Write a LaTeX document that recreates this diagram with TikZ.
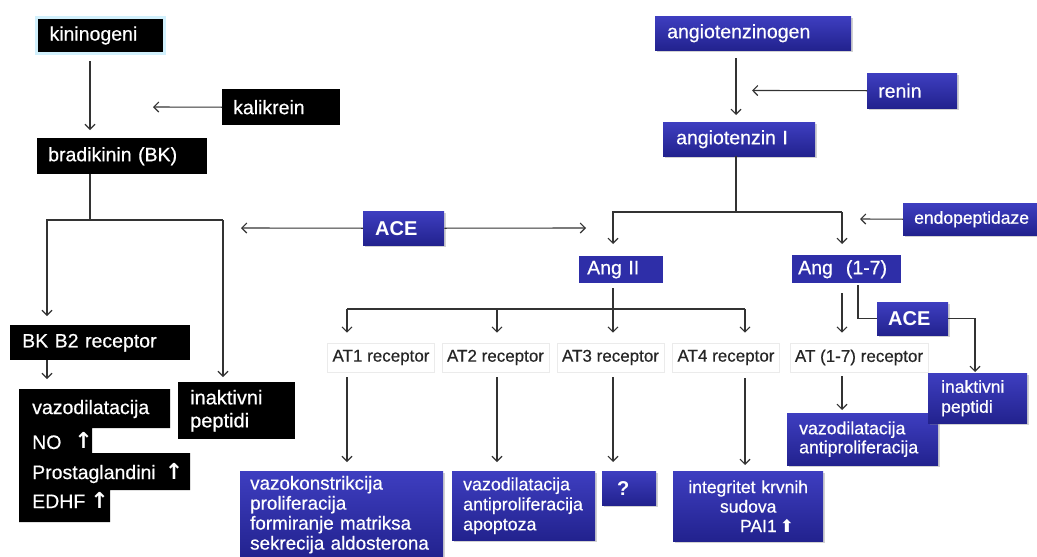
\documentclass[tikz,border=0pt]{standalone}
\usepackage{fontspec}
\setmainfont{Liberation Sans}[UprightFeatures={FakeBold=0.5}]
\newfontfamily\symf{DejaVu Sans}
\usetikzlibrary{arrows.meta,shadows}
\definecolor{bT}{RGB}{62,62,192}
\definecolor{bB}{RGB}{34,34,142}
\definecolor{bF}{RGB}{46,46,168}
\newcommand\fsz[2]{\fontsize{#1}{#2}\selectfont}
\newcommand\upar{{\symf\bfseries\fontsize{22}{22}\selectfont ↑}}
\newcommand\upbig{{\symf ⬆}}
\begin{document}
\begin{tikzpicture}[x=1pt,y=-1pt,
  ln/.style={line width=1.1pt, draw=black!80},
  arr/.style={ln, -{Straight Barb[length=5pt,width=10pt]}},
  blk/.style={fill=black, text=white, inner ysep=0pt, align=left, anchor=north west},
  blu/.style={top color=bT, bottom color=bB, text=white, inner ysep=0pt, align=left, anchor=north west,
    drop shadow={opacity=0.35, shadow xshift=1.5pt, shadow yshift=-2pt}},
  flat/.style={fill=bF, text=white, inner ysep=0pt, align=left, anchor=north west},
  rec/.style={fill=white, draw=black!8, line width=0.6pt, minimum height=29, inner xsep=5pt, inner ysep=0pt,
    text=black!85, font=\fsz{17}{19}},
  wtxt/.style={text=white, inner sep=0pt, anchor=west, font=\fsz{19.5}{22}},
  big/.style={font=\fsz{19.5}{22}}
]
\useasboundingbox (0,0) rectangle (1037,557);
\fill[white] (0,0) rectangle (1037,557);

% ---------- kinin side ----------
\node[blk, big, draw=cyan!18, line width=3pt, minimum height=36, text width=102, inner xsep=13] (kin) at (35,16) {kininogeni};
\node[blk, big, minimum height=36, text width=96, inner xsep=11] (kal) at (222,89) {kalikrein};
\node[blk, big, minimum height=36, text width=148, inner xsep=11] (brad) at (37,138) {bradikinin (BK)};
\node[blk, big, minimum height=35, text width=156, inner xsep=12] (bkb2) at (10,325) {BK B2 receptor};
\node[blk, font=\fsz{20}{23}, minimum height=57, text width=93, inner xsep=12] (inakL) at (178,382) {inaktivni\\peptidi};

\fill[black] (19,389) -- (170,389) -- (170,428) -- (92,428) -- (92,453) -- (190,453) -- (190,490) -- (110,490) -- (110,522) -- (19,522) -- cycle;
\node[wtxt] (v1) at (32,409) {vazodilatacija};
\node[wtxt] (v2) at (32,441) {NO\hspace{13pt}\upar};
\node[wtxt] (v3) at (32,473) {Prostaglandini\hspace{9pt}\upar};
\node[wtxt] (v4) at (32,500) {EDHF\hspace{5pt}\upar};

% ---------- ACE ----------
\node[blu, font=\fsz{20}{22}\bfseries, minimum height=34, text width=57, inner xsep=12] (ace) at (363,211) {ACE};

% ---------- angiotensin side ----------
\node[blu, big, minimum height=34, text width=172, inner xsep=12] (angen) at (655,16) {angiotenzinogen};
\node[blu, big, minimum height=35, text width=68, inner xsep=11] (renin) at (867,73) {renin};
\node[blu, big, minimum height=34, text width=126, inner xsep=13] (angI) at (663,122) {angiotenzin I};
\node[blu, font=\fsz{17.5}{20}, minimum height=32, text width=112, inner xsep=11] (endo) at (903,203) {endopeptidaze};
\node[flat, big, minimum height=27, text width=68, inner xsep=8] (ang2) at (579,256) {Ang II};
\node[flat, big, minimum height=28, text width=97, inner xsep=6] (ang17) at (792,255) {Ang\ \ (1-7)};
\node[blu, font=\fsz{20}{22}\bfseries, minimum height=33, text width=49, inner xsep=11] (ace2) at (877,302) {ACE};

% receptors
\node[rec] (at1) at (381,357.5) {AT1 receptor};
\node[rec] (at2) at (495.5,357.5) {AT2 receptor};
\node[rec] (at3) at (610.5,357.5) {AT3 receptor};
\node[rec] (at4) at (726,357.5) {AT4 receptor};
\node[rec] (at17) at (859,357.5) {AT (1-7) receptor};

% effects
\node[blu, font=\fsz{18.8}{20}, minimum height=87, text width=183, inner xsep=10] (vk) at (240,471) {vazokonstrikcija\\proliferacija\\formiranje matriksa\\sekrecija aldosterona};
\node[blu, font=\fsz{17.8}{20}, minimum height=69, text width=121, inner xsep=11] (va) at (452,471) {vazodilatacija\\antiproliferacija\\apoptoza};
\node[blu, font=\fsz{20}{22}\bfseries, minimum height=34, text width=24, inner xsep=15] (q) at (602,471) {?};
\node[blu, font=\fsz{17.5}{19.5}, minimum height=70, text width=134, inner xsep=8, align=center] (integ) at (673,471) {integritet krvnih\\sudova\\\hspace*{38pt}PAI1\,\upbig};
\node[blu, font=\fsz{17.7}{19}, minimum height=52, text width=127, inner xsep=12] (vr) at (787,413) {vazodilatacija\\antiproliferacija};
\node[blu, font=\fsz{17.5}{20}, minimum height=50, text width=73, inner xsep=13] (inakR) at (928,373) {inaktivni\\peptidi};

% ---------- coordinates ----------
\coordinate (xk) at (90,0);
\coordinate (xb) at (47,0);
\coordinate (xi) at (223,0);
\coordinate (bs) at (90,220);
\coordinate (kalend) at (153,107);
\coordinate (vtop) at (47,379);
\coordinate (aceL) at (241,228);
\coordinate (aceR) at (586,228);
\coordinate (xa) at (736,0);
\coordinate (renend) at (752,90.5);
\coordinate (as) at (736,212);
\coordinate (x2) at (613,0);
\coordinate (x17) at (842,0);
\coordinate (endend) at (860,219);
\coordinate (bus) at (613,309);
\coordinate (x1) at (347,0);
\coordinate (x2b) at (497,0);
\coordinate (x4) at (745,0);
\coordinate (x58) at (858,0);
\coordinate (x75) at (975,0);

% ---------- connectors ----------
\draw[arr, shorten <=6pt, shorten >=8pt] (kin.south -| xk) -- (brad.north -| xk);
\draw[arr] (kal.west) -- (kalend);
\draw[ln] (brad.south -| xk) -- (bs);
\draw[arr, shorten >=9pt] (bs -| xi) -- (bs -| xb) -- (bkb2.north -| xb);
\draw[arr, shorten >=5pt] (bs -| xi) -- (inakL.north -| xi);
\draw[arr] (bkb2.south -| xb) -- (vtop);

\draw[arr] (ace.west) -- (aceL);
\draw[arr] (ace.east) -- (aceR);

\draw[arr, shorten <=8pt, shorten >=7pt] (angen.south -| xa) -- (angI.north -| xa);
\draw[arr] (renin.west) -- (renend);
\draw[ln] (angI.south -| xa) -- (as);
\draw[arr, shorten >=12pt] (as -| x17) -- (as -| x2) -- (ang2.north -| x2);
\draw[arr, shorten >=11pt] (as -| x17) -- (ang17.north -| x17);
\draw[arr] (endo.west) -- (endend);

\draw[arr, shorten <=5pt, shorten >=10pt] (ang2.south -| x2) -- (at3.north -| x2);
\draw[ln] (bus -| x1) -- (bus -| x4);
\draw[arr, shorten >=10pt] (bus -| x1) -- (at1.north -| x1);
\draw[arr, shorten >=10pt] (bus -| x2b) -- (at2.north -| x2b);
\draw[arr, shorten >=10pt] (bus -| x4) -- (at4.north -| x4);
\draw[arr, shorten <=10pt, shorten >=10pt] (ang17.south -| x17) -- (at17.north -| x17);
\draw[ln, shorten <=2pt] (ang17.south -| x58) |- (ace2.west);
\draw[arr, shorten >=1pt] (ace2.east) -| (inakR.north -| x75);

\draw[arr, shorten <=5pt, shorten >=9pt] (at1.south -| x1) -- (vk.north -| x1);
\draw[arr, shorten <=5pt, shorten >=9pt] (at2.south -| x2b) -- (va.north -| x2b);
\draw[arr, shorten <=5pt, shorten >=9pt] (at3.south -| x2) -- (q.north -| x2);
\draw[arr, shorten <=6pt, shorten >=6pt] (at4.south -| x4) -- (integ.north -| x4);
\draw[arr, shorten <=4pt, shorten >=3pt] (at17.south -| x17) -- (vr.north -| x17);
\end{tikzpicture}
\end{document}
